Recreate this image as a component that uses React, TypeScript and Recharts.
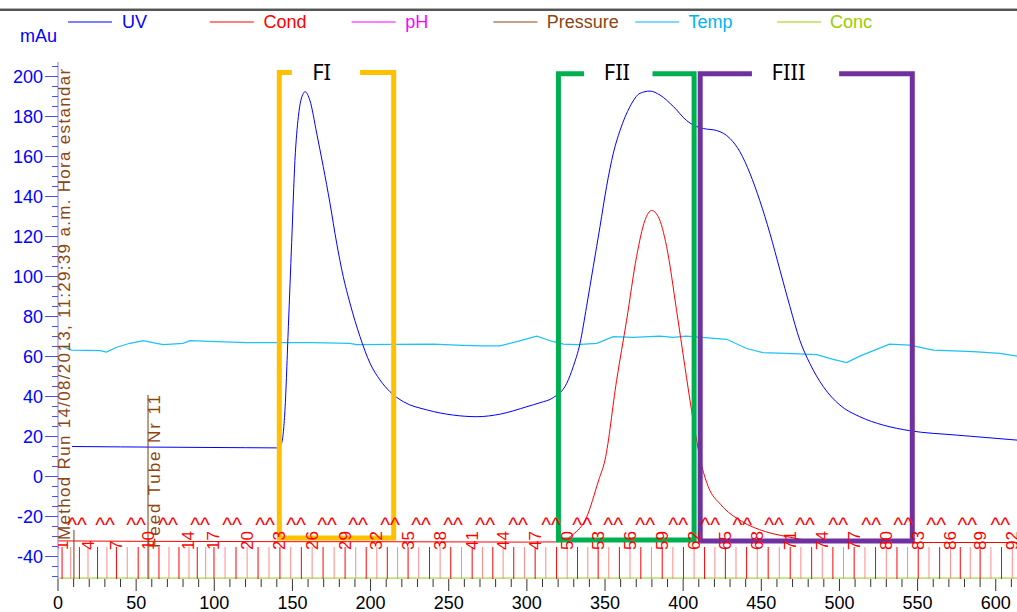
import React from 'react';
import { ComposedChart, Line, Scatter, XAxis, YAxis } from 'recharts';

// UV (mAu) trace
const uvX = [9, 40, 80, 120, 140, 143, 145.2, 147.4, 149.5, 151.6, 153.8, 157, 158, 161.2, 165.5, 169.7, 174, 178.3, 182.5, 186.8, 193.2, 199.6, 206, 212.4, 221, 236, 253, 268, 283, 300, 308.4, 317, 325.5, 329.7, 334, 338.2, 342.5, 346.8, 351, 355.3, 359.6, 366, 372.4, 378.8, 385.2, 393.7, 402.2, 406.5, 412.9, 421.4, 430, 436.3, 442.7, 449, 455.5, 462, 468.3, 474.7, 481, 489.6, 500.3, 513, 528, 545, 575, 613.6];
const uvY = [15, 14.8, 14.6, 14.4, 14.3, 16.5, 33, 75, 117, 158, 180, 191.6, 192.4, 188, 171.7, 155, 136.7, 116.7, 100, 86.7, 70, 56.7, 48.3, 42.4, 37.4, 33.3, 30.7, 29.9, 31.2, 34.9, 36.9, 39.5, 46.6, 55, 66.6, 85, 105, 125, 145, 161.6, 173, 185, 191.6, 192.7, 190.7, 185, 178, 175.7, 174, 173, 169, 162.4, 151.6, 138, 121.6, 103, 85, 68, 56.6, 45, 35.7, 29.9, 25.7, 22.9, 20.7, 18.2];

// conductivity trace
const condX = [0, 50, 100, 150, 200, 250, 300, 318.4, 329.5, 338, 346, 350, 357.4, 363.8, 370.2, 375.5, 379.8, 384, 389.4, 395.8, 401.1, 405.4, 412, 416, 424, 437.4, 452.8, 466, 490, 520, 560, 613.6];
const condY = [-32.2, -32.4, -32.5, -32.6, -32.6, -32.7, -32.8, -32.7, -29, -20.7, -1.7, 8.3, 48, 78, 110, 128, 133, 130, 115, 83, 55, 33, 5, -5, -14, -22.4, -27.6, -30, -32.7, -33, -33, -33];

// temperature trace
const tempX = [3, 8.8, 27, 31, 37.5, 46, 54.6, 63, 67.4, 80, 84.5, 97, 120.7, 163.4, 186.8, 191, 240, 259, 272, 282.8, 293.5, 306.3, 317, 323.4, 332, 344.7, 355.3, 368, 385, 393.7, 402, 427.8, 440.6, 451, 466, 485.4, 496, 504.6, 513, 532, 545, 560, 585.6, 602.7, 613.6];
const tempY = [65, 63.2, 62.9, 62.2, 64.6, 66.6, 67.9, 66.6, 65.9, 66.6, 67.9, 67.6, 66.9, 66.9, 66.6, 65.9, 66.2, 65.6, 65.3, 65.3, 67.4, 70.2, 67.4, 66.2, 65.9, 66.6, 69.9, 69.6, 70.2, 69.6, 70.2, 68.6, 64, 61.9, 61.6, 60.9, 58.6, 57, 60.2, 66.2, 65.7, 63.2, 62.4, 61.6, 60.2];

// concentration trace
const concX = [0, 613.6];
const concY = [-50.9, -50.9];

// fractions
const fractionTickX = [2.6, 8.1, 13.7, 19.2, 25.3, 31.3, 37.4, 44.3, 51.3, 58.2, 64.6, 71, 77.4, 83.8, 89.1, 94.5, 99.8, 106.9, 113.9, 121, 128, 135, 142, 148.9, 155.7, 162.6, 169.6, 176.7, 183.7, 190.5, 197.2, 204, 210.7, 217.3, 224, 230.8, 237.7, 244.5, 251.3, 258.2, 265, 271.6, 278.2, 284.8, 291.6, 298.5, 305.3, 312.1, 319, 325.8, 332.4, 339, 345.6, 352.4, 359.2, 366, 372.9, 379.7, 386.6, 393.4, 400.2, 407, 413.7, 420.3, 427, 433.8, 440.6, 447.4, 454.4, 461.5, 468.5, 475.3, 482.2, 489, 495.8, 502.6, 509.4, 516.3, 523.1, 530, 536.8, 543.6, 550.4, 557.3, 564.1, 571, 577.3, 583.7, 590, 596.9, 603.7, 610.6];
const fractionLabels = ['1', '4', '7', '10', '14', '17', '20', '23', '26', '29', '32', '35', '38', '41', '44', '47', '50', '53', '56', '59', '62', '65', '68', '71', '74', '77', '80', '83', '86', '89', '92'];
const fractionLabelX = [2.6, 19.2, 37.4, 58.2, 83.8, 99.8, 121, 142, 162.6, 183.7, 204, 224, 244.5, 265, 284.8, 305.3, 325.8, 345.6, 366, 386.6, 407, 427, 447.4, 468.5, 489, 509.4, 530, 550.4, 571, 590, 610.6];
const caretX = [12.2, 30.1, 49.9, 70.4, 90.9, 111.4, 132.5, 152.3, 172.2, 192, 212.5, 232.3, 252.8, 273.3, 294.4, 315.5, 335.4, 355.2, 375.7, 396.8, 417.3, 437.8, 458.2, 478, 499.2, 520.3, 540.8, 561.9, 581.8, 602.9];

// run events
const eventX = [10.2, 57.6];
const eventLabels = ['Method Run 14/08/2013, 11:29:39 a.m. Hora estandar d', 'Feed Tube Nr 11'];

// pooled fraction brackets
const fiX = [149.6, 141.6, 141.6, 214.8, 214.8, 193.3];
const fiY = [202, 202, -30.75, -30.75, 202, 202];
const fiiX = [336.6, 320.2, 320.2, 407, 407, 380.4];
const fiiY = [201.4, 201.4, -31.75, -31.75, 201.4, 201.4];
const fiiiX = [444, 410.9, 410.9, 546.6, 546.6, 499.8];
const fiiiY = [201.4, 201.4, -32.25, -32.25, 201.4, 201.4];
const poolNames = ['FI', 'FII', 'FIII'];
const poolLabelX = [168.7, 357.6, 467.4];

// axes
const yTicks = [-50, -45, -40, -35, -30, -25, -20, -15, -10, -5, 0, 5, 10, 15, 20, 25, 30, 35, 40, 45, 50, 55, 60, 65, 70, 75, 80, 85, 90, 95, 100, 105, 110, 115, 120, 125, 130, 135, 140, 145, 150, 155, 160, 165, 170, 175, 180, 185, 190, 195, 200, 205];
const xTicks = [0, 10, 20, 30, 40, 50, 60, 70, 80, 90, 100, 110, 120, 130, 140, 150, 160, 170, 180, 190, 200, 210, 220, 230, 240, 250, 260, 270, 280, 290, 300, 310, 320, 330, 340, 350, 360, 370, 380, 390, 400, 410, 420, 430, 440, 450, 460, 470, 480, 490, 500, 510, 520, 530, 540, 550, 560, 570, 580, 590, 600, 610];

const legendNames = ['UV', 'Cond', 'pH', 'Pressure', 'Temp', 'Conc'];
const legendColors = ['#0000ff', '#ff0000', '#ff00ff', '#8b4513', '#00b4f0', '#99cc00'];

const FONT = '"Liberation Sans", Arial, sans-serif';
const Y_DOMAIN: [number, number] = [-51.25, 207.25];
const X_DOMAIN: [number, number] = [0, 613.6];

const pts = (xs: number[], ys: number[]) => xs.map((x, i) => ({ x, y: ys[i] }));

const uvData = pts(uvX, uvY);
const condData = pts(condX, condY);
const tempData = pts(tempX, tempY);
const concData = pts(concX, concY);
const fiData = pts(fiX, fiY);
const fiiData = pts(fiiX, fiiY);
const fiiiData = pts(fiiiX, fiiiY);

const fracTickData = fractionTickX.map((x, i) => ({ x, y: Y_DOMAIN[0], i }));
const fracLabelData = fractionLabelX.map((x, i) => ({ x, y: -36.75, label: fractionLabels[i] }));
const caretData = caretX.map((x) => ({ x, y: -23 }));
const eventData = eventX.map((x, i) => ({ x, y: Y_DOMAIN[0], i, label: eventLabels[i] }));
const poolLabelData = poolLabelX.map((x, i) => ({ x, y: 202.75, label: poolNames[i] }));

// per-event drawing tweaks: text offset, text start, text length, marker height
const eventLook = [
  { dx: -9, dy: -39, len: 488, h: 49 },
  { dx: 6, dy: -31, len: 153, h: 184 },
];

function YTick(props: any) {
  const { x, y, payload } = props;
  const v = payload.value;
  const major = v % 20 === 0;
  return (
    <g>
      <line x1={x - (major ? 13 : 6)} x2={x} y1={y} y2={y} stroke="#4a4aff" />
      {major && (
        <text x={x - 15} y={y} textAnchor="end" dominantBaseline="central" fill="#0000ff" fontSize={18} fontFamily={FONT}>
          {v}
        </text>
      )}
    </g>
  );
}

function XTick(props: any) {
  const { x, y, payload } = props;
  const v = payload.value;
  const major = v % 50 === 0;
  return (
    <g>
      <line x1={x} x2={x} y1={y} y2={y + (major ? 12 : 8)} stroke="#333" />
      {major && (
        <text x={x} y={y + 30} textAnchor="middle" fill="#000" fontSize={18} fontFamily={FONT}>
          {v}
        </text>
      )}
    </g>
  );
}

function FracTick(props: any) {
  const { cx, cy, payload } = props;
  return <line x1={cx} x2={cx} y1={cy - 32} y2={cy} stroke={payload.i % 2 ? '#ff8a8a' : '#ff0000'} />;
}

function FracLabel(props: any) {
  const { cx, cy, payload } = props;
  return (
    <text x={cx} y={cy} transform={`rotate(-90 ${cx} ${cy})`} dominantBaseline="central" fill="#ff0000" fontSize={17} fontFamily={FONT}>
      {payload.label}
    </text>
  );
}

function Caret(props: any) {
  const { cx, cy } = props;
  return (
    <text x={cx} y={cy + 9.5} textAnchor="middle" fill="#ff0000" fontSize={21} fontFamily={FONT}>
      ^^
    </text>
  );
}

function EventMark(props: any) {
  const { cx, cy, payload } = props;
  const look = eventLook[payload.i];
  const tx = cx + look.dx;
  const ty = cy + look.dy;
  return (
    <g>
      <line x1={cx} x2={cx} y1={cy - look.h} y2={cy} stroke="#7a3d10" />
      <text
        x={tx}
        y={ty}
        transform={`rotate(-90 ${tx} ${ty})`}
        dominantBaseline="central"
        fill="#8b4513"
        fontSize={17}
        fontFamily={FONT}
        textLength={look.len}
        lengthAdjust="spacing"
      >
        {payload.label}
      </text>
    </g>
  );
}

function PoolLabel(props: any) {
  const { cx, cy, payload } = props;
  return (
    <text x={cx} y={cy} textAnchor="middle" dominantBaseline="central" fill="#000" fontSize={22} fontFamily='"Noto Sans", sans-serif'>
      {payload.label}
    </text>
  );
}

export default function App() {
  return (
    <div style={{ position: 'absolute', left: 0, top: 0, width: 1017, height: 612, background: '#fff', overflow: 'hidden' }}>
      <ComposedChart width={1017} height={612} margin={{ top: 62, right: 0, bottom: 0, left: 0 }}>
        <XAxis
          type="number"
          dataKey="x"
          domain={X_DOMAIN}
          allowDataOverflow
          ticks={xTicks}
          interval={0}
          tickSize={0}
          tickMargin={0}
          tickLine={false}
          axisLine={false}
          height={33}
          tick={<XTick />}
        />
        <YAxis
          type="number"
          domain={Y_DOMAIN}
          allowDataOverflow
          ticks={yTicks}
          interval={0}
          tickSize={0}
          tickMargin={0}
          tickLine={false}
          axisLine={{ stroke: '#7f7fff' }}
          width={58}
          tick={<YTick />}
        />
        <Line data={tempData} dataKey="y" type="linear" stroke="#1cc2f7" strokeWidth={1.2} dot={false} activeDot={false} isAnimationActive={false} />
        <Line data={uvData} dataKey="y" type="monotone" stroke="#0000ff" strokeWidth={1} dot={false} activeDot={false} isAnimationActive={false} />
        <Line data={condData} dataKey="y" type="monotone" stroke="#ff0000" strokeWidth={1} dot={false} activeDot={false} isAnimationActive={false} />
        <Line data={concData} dataKey="y" type="linear" stroke="#c2e07e" strokeWidth={2} dot={false} activeDot={false} isAnimationActive={false} />
        <Scatter data={fracTickData} dataKey="y" shape={<FracTick />} isAnimationActive={false} />
        <Scatter data={eventData} dataKey="y" shape={<EventMark />} isAnimationActive={false} />
        <Scatter data={fracLabelData} dataKey="y" shape={<FracLabel />} isAnimationActive={false} />
        <Scatter data={caretData} dataKey="y" shape={<Caret />} isAnimationActive={false} />
        <Line data={fiData} dataKey="y" type="linear" stroke="#ffc000" strokeWidth={5} strokeLinejoin="miter" dot={false} activeDot={false} isAnimationActive={false} />
        <Line data={fiiData} dataKey="y" type="linear" stroke="#00b050" strokeWidth={5} strokeLinejoin="miter" dot={false} activeDot={false} isAnimationActive={false} />
        <Line data={fiiiData} dataKey="y" type="linear" stroke="#7030a0" strokeWidth={5} strokeLinejoin="miter" dot={false} activeDot={false} isAnimationActive={false} />
        <Scatter data={poolLabelData} dataKey="y" shape={<PoolLabel />} isAnimationActive={false} />
      </ComposedChart>
      <svg width={1017} height={612} style={{ position: 'absolute', left: 0, top: 0, pointerEvents: 'none' }}>
        <rect x={0} y={8} width={1017} height={1} fill="#b0b0b0" />
        <rect x={0} y={9} width={1017} height={2} fill="#555" />
        <text x={20} y={42} fill="#0000ff" fontSize={18} fontFamily={FONT}>mAu</text>
        {legendNames.map((name, i) => (
          <g key={name}>
            <line x1={68 + i * 141.8} x2={112 + i * 141.8} y1={22} y2={22} stroke={legendColors[i]} />
            <text x={122 + i * 141.6} y={28} fill={legendColors[i]} fontSize={18} fontFamily={FONT}>{name}</text>
          </g>
        ))}
      </svg>
    </div>
  );
}
